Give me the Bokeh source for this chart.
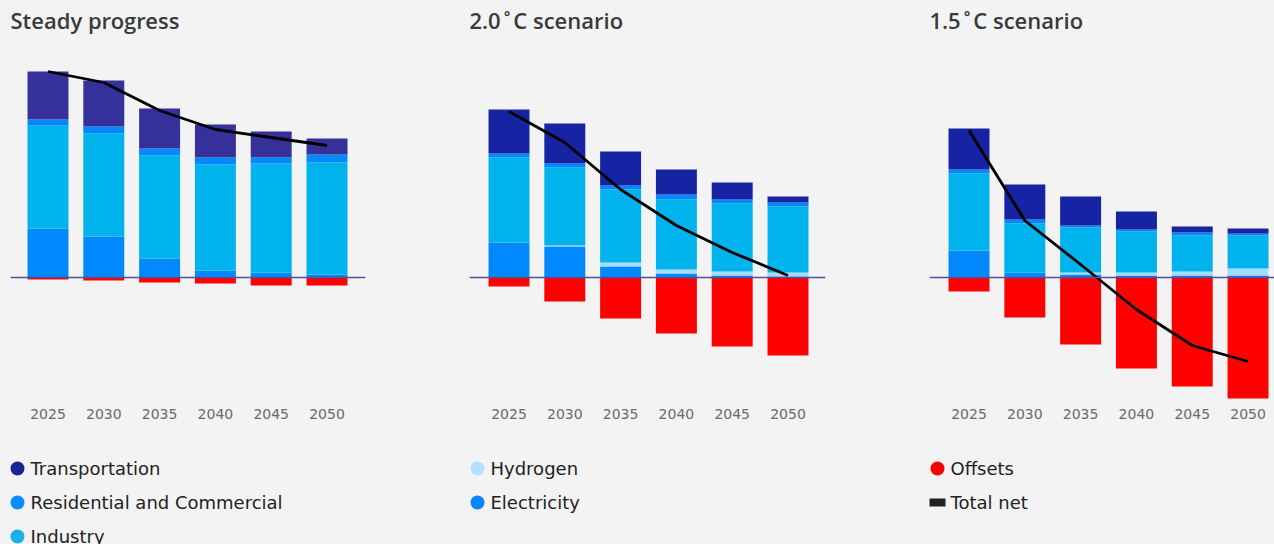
from bokeh.plotting import figure
from bokeh.layouts import column, row
from bokeh.models import Range1d, FixedTicker, Span, ColumnDataSource
from bokeh.core.properties import value
from bokeh.embed import file_html
from bokeh.resources import INLINE

# ---------------- data ----------------
years = [2025, 2030, 2035, 2040, 2045, 2050]
titles = ["Steady progress", "2.0˚C scenario", "1.5˚C scenario"]

# Steady progress
sp_transport = [4.8, 4.6, 4.0, 3.3, 2.6, 1.6]
sp_residential = [0.6, 0.7, 0.7, 0.7, 0.6, 0.8]
sp_industry = [10.3, 10.3, 10.3, 10.6, 10.9, 11.2]
sp_hydrogen = [0.0, 0.0, 0.0, 0.0, 0.0, 0.0]
sp_electricity = [4.9, 4.1, 1.9, 0.7, 0.5, 0.3]
sp_offsets = [-0.2, -0.3, -0.5, -0.6, -0.8, -0.8]
sp_net = [20.6, 19.5, 16.7, 14.8, 14.0, 13.2]

# 2.0 C scenario
s20_transport = [4.4, 4.0, 3.4, 2.5, 1.7, 0.6]
s20_residential = [0.4, 0.4, 0.4, 0.5, 0.4, 0.4]
s20_industry = [8.5, 7.8, 7.3, 7.0, 6.8, 6.6]
s20_hydrogen = [0.0, 0.1, 0.4, 0.4, 0.4, 0.4]
s20_electricity = [3.5, 3.1, 1.1, 0.4, 0.2, 0.1]
s20_offsets = [-0.9, -2.4, -4.1, -5.6, -6.9, -7.8]
s20_net = [16.6, 13.5, 8.8, 5.2, 2.5, 0.2]

# 1.5 C scenario
s15_transport = [4.1, 3.5, 2.9, 1.8, 0.6, 0.5]
s15_residential = [0.4, 0.4, 0.2, 0.2, 0.3, 0.2]
s15_industry = [7.7, 4.9, 4.5, 4.1, 3.6, 3.3]
s15_hydrogen = [0.0, 0.0, 0.2, 0.3, 0.4, 0.7]
s15_electricity = [2.7, 0.5, 0.3, 0.2, 0.2, 0.2]
s15_offsets = [-1.4, -4.0, -6.7, -9.1, -10.9, -12.1]
s15_net = [14.7, 5.7, 1.3, -3.2, -6.8, -8.4]

legend_names = ["Transportation", "Residential and Commercial", "Industry",
                "Hydrogen", "Electricity", "Offsets", "Total net"]

# ---------------- style ----------------
FONT = "DejaVu Sans"
TITLE_FONT = "'Open Sans SemiBold', 'Open Sans'"
BAR_W = 3.67
BG = "#f3f3f3"
C_TRANSPORT = "#1623a3"
C_TRANSPORT_SP = "#36309a"
C_RES = "#0088ff"
C_IND = "#00b3ec"
C_HYD = "#a4dcfb"
C_ELEC = "#0088ff"
C_OFF = "#ff0000"
LEG_COLORS = ["#1b2399", "#0a8bff", "#1ab0e8", "#b3e0ff", "#0a84ff", "#ff0000", "#222222"]


def chart(title, trans, res, ind, hyd, elec, offs, net, tcolor,
          xr, width, left, right):
    src = ColumnDataSource(dict(year=years, electricity=elec, hydrogen=hyd,
                                industry=ind, residential=res,
                                transport=trans, offsets=offs, net=net))
    p = figure(width=width, height=430, x_range=Range1d(*xr),
               y_range=Range1d(-12.3, 23.7), y_axis_location=None,
               output_backend="svg", toolbar_location=None,
               min_border_left=left, min_border_right=right,
               min_border_top=40, min_border_bottom=30,
               background_fill_color=BG, border_fill_color=BG,
               outline_line_color=None, title=title)
    p.grid.visible = False
    p.vbar_stack(["electricity", "hydrogen", "industry", "residential", "transport"],
                 x="year", width=BAR_W, source=src,
                 color=[C_ELEC, C_HYD, C_IND, C_RES, tcolor], line_width=0)
    p.vbar(x="year", top=0, bottom="offsets", width=BAR_W, source=src,
           color=C_OFF, line_width=0)
    p.add_layout(Span(location=0, dimension="width", line_color="#4f4f9c",
                      line_width=1.5))
    p.line("year", "net", source=src, line_color="black", line_width=2.8)

    p.xaxis.ticker = FixedTicker(ticks=years)
    p.xaxis.axis_line_color = None
    p.xaxis.major_tick_line_color = None
    p.xaxis.minor_tick_line_color = None
    p.xaxis.major_label_text_font = FONT
    p.xaxis.major_label_text_font_size = "14px"
    p.xaxis.major_label_text_color = "#6a6a6a"
    p.xaxis.major_label_standoff = 2

    p.title.text_font = TITLE_FONT
    p.title.text_font_size = "22px"
    p.title.text_font_style = "normal"
    p.title.text_color = "#3a3a3a"
    p.title.vertical_align = "top"
    p.title.standoff = 7
    return p


def legend_fig(names, colors, width, total_net=None):
    p = figure(width=width, height=114, x_range=Range1d(-17, width - 17),
               y_range=Range1d(76 / 34, -38 / 34), x_axis_location=None,
               y_axis_location=None, output_backend="svg",
               toolbar_location=None, min_border=0,
               background_fill_color=BG, border_fill_color=BG,
               outline_line_color=None)
    p.grid.visible = False
    rows = list(range(len(names)))
    src = ColumnDataSource(dict(x=[0] * len(names), y=rows, name=names, color=colors))
    p.scatter("x", "y", source=src, size=14, color="color", line_width=0)
    labels = list(names)
    lrows = list(rows)
    if total_net is not None:
        r = len(names)
        p.rect(x=[0], y=[r], width=16, height=8, width_units="screen",
               height_units="screen", color=total_net[1], line_width=0)
        labels.append(total_net[0])
        lrows.append(r)
    p.text(x=[0] * len(labels), y=lrows, text=labels, x_offset=13,
           text_font=value(FONT), text_font_size="18px", text_color="#222222",
           text_baseline="middle", text_align="left")
    return p


p1 = chart(titles[0], sp_transport, sp_residential, sp_industry, sp_hydrogen,
           sp_electricity, sp_offsets, sp_net, C_TRANSPORT_SP,
           (2021.64, 2053.45), 460, 10, 95)
p2 = chart(titles[1], s20_transport, s20_residential, s20_industry, s20_hydrogen,
           s20_electricity, s20_offsets, s20_net, C_TRANSPORT,
           (2021.46, 2053.36), 460, 9, 95)
p3 = chart(titles[2], s15_transport, s15_residential, s15_industry, s15_hydrogen,
           s15_electricity, s15_offsets, s15_net, C_TRANSPORT,
           (2021.46, 2052.37), 354, 9, 0)

l1 = legend_fig(legend_names[0:3], LEG_COLORS[0:3], 460)
l2 = legend_fig(legend_names[3:5], LEG_COLORS[3:5], 460)
l3 = legend_fig(legend_names[5:6], LEG_COLORS[5:6], 354,
                total_net=(legend_names[6], LEG_COLORS[6]))

layout = column(row(p1, p2, p3), row(l1, l2, l3))
html = file_html(layout, INLINE)
html = html.replace("<head>", "<head><style>html, body { background: %s; margin: 0; }</style>" % BG, 1)
open("out.html", "w").write(html)
